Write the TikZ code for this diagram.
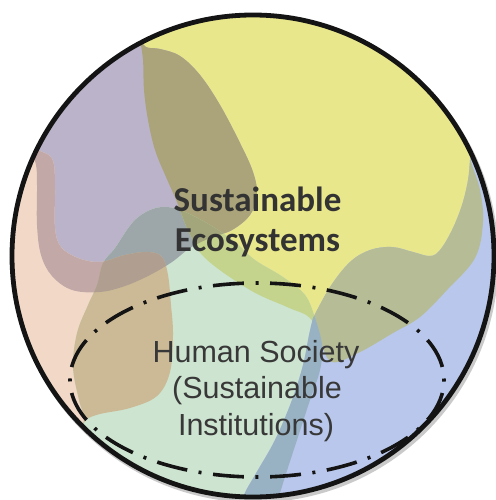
\documentclass[tikz,border=0pt]{standalone}
\usepackage{fontspec}
\newfontfamily\ecofont{Carlito}
\newfontfamily\socfont{Liberation Sans}
\definecolor{cY}{HTML}{E9E78C}
\definecolor{cP}{HTML}{BBB3CA}
\definecolor{cPe}{HTML}{F2D9C7}
\definecolor{cG}{HTML}{CDE4D0}
\definecolor{cB}{HTML}{B8C7EB}
\definecolor{cYP}{HTML}{ABA47A}
\definecolor{cPPe}{HTML}{C2A9A8}
\definecolor{cPG}{HTML}{9DA7A9}
\definecolor{cYG}{HTML}{C4D48C}
\definecolor{cYB}{HTML}{B6BC96}
\definecolor{cPeG}{HTML}{CCBA96}
\definecolor{cGB}{HTML}{98B2C4}
\definecolor{cPPeG}{HTML}{B09F90}
\definecolor{cPYG}{HTML}{A2A67A}
\definecolor{ecogray}{HTML}{333333}
\definecolor{socgray}{HTML}{383838}
\begin{document}
\begin{tikzpicture}[x=1pt,y=-1pt,
  shY/.style={insert path={(138,-20) -- (140,40) -- plot[smooth,tension=0.6] coordinates {(140,40) (143,60) (144,90) (148,120) (155,150) (166,177) (177,202) (188,230) (205,258) (250,290) (287,307) (310,318) (320,340) (332,362) (360,352) (393,333) (420,317) (447,290) (475,258) (483,222) (480,190) (472,165) (468,150)} -- (520,140) -- (520,-20) -- cycle}},
  shP/.style={insert path={(-20,-20) -- (136,-20) -- (140,38) -- plot[smooth,tension=0.6] coordinates {(140,38) (146,47) (160,49) (180,56) (200,75) (220,105) (240,143) (253,172) (257,195) (250,215) (232,230) (210,238) (190,248) (172,262) (150,275) (125,286) (100,292) (72,290) (52,276) (41,255) (37,225) (37,185) (36,165) (30,148)} -- (-20,148) -- cycle}},
  shPe/.style={insert path={(-20,140) -- (30,142) -- plot[smooth,tension=0.6] coordinates {(30,142) (40,151) (49,155) (54,165) (55,190) (55,228) (61,247) (78,258) (100,262) (125,255) (148,252) (162,257) (168,275) (171,305) (173,335) (170,372) (157,396) (130,408) (100,414) (86,420) (80,432)} -- (80,460) -- (-20,460) -- cycle}},
  shG/.style={insert path={(272,520) -- (80,520) -- (80,432) -- plot[smooth,tension=0.6] coordinates {(80,432) (84,418) (79,400) (73,367) (77,333) (88,305) (97,285) (103,263) (115,248) (133,222) (150,210) (167,207) (185,212) (210,225) (235,242) (255,260) (283,277) (305,295) (315,318) (322,345) (320,370) (310,400) (297,440) (284,480) (272,520)} -- cycle}},
  shB/.style={insert path={plot[smooth,tension=0.6] coordinates {(313,318) (330,287) (350,262) (370,250) (392,247) (413,252) (430,256) (440,250) (452,230) (462,205) (468,180) (470,160) (472,140)} -- (520,130) -- (520,520) -- (237,520) -- plot[smooth,tension=0.6] coordinates {(237,520) (244,495) (255,475) (275,440) (292,400) (303,365) (309,335) (313,318)} -- cycle}},
  ecotext/.style={font=\ecofont\bfseries\fontsize{35}{40}\selectfont, text=ecogray, inner sep=0pt, anchor=base},
  soctext/.style={font=\socfont\fontsize{30.5}{36}\selectfont, text=socgray, inner sep=0pt, anchor=base},
  societyline/.style={line width=3.6pt, black!92, dash pattern=on 31pt off 11.5pt on 3pt off 11.67pt, dash phase=44pt},
  rim/.style={line width=4.8pt, black!92}
]
\useasboundingbox (0,0) rectangle (495,500);
% soft shadow of the rim
\draw[line width=5pt, black!35, opacity=0.6] (255,259) circle [radius=241pt];
\begin{scope}
  \clip (253,256) circle [radius=241pt];
  \fill[white] (253,256) circle [radius=241pt];
  % base regions
  \fill[cY, shY];
  \fill[cP, shP];
  \fill[cPe, shPe];
  \fill[cG, shG];
  \fill[cB, shB];
  % pairwise overlaps
  \begin{scope}\clip[shY]; \fill[cYP, shP];\end{scope}
  \begin{scope}\clip[shP]; \fill[cPPe, shPe];\end{scope}
  \begin{scope}\clip[shP]; \fill[cPG, shG];\end{scope}
  \begin{scope}\clip[shY]; \fill[cYG, shG];\end{scope}
  \begin{scope}\clip[shY]; \fill[cYB, shB];\end{scope}
  \begin{scope}\clip[shPe]; \fill[cPeG, shG];\end{scope}
  \begin{scope}\clip[shG]; \fill[cGB, shB];\end{scope}
  % triple overlaps
  \begin{scope}\clip[shP]; \clip[shPe]; \fill[cPPeG, shG];\end{scope}
  \begin{scope}\clip[shP]; \clip[shY]; \fill[cPYG, shG];\end{scope}
\end{scope}
\draw[rim] (253,256) circle [radius=241pt];
% human society boundary
\draw[societyline] (257,380) ellipse [x radius=187pt, y radius=97pt];
% labels
\node[ecotext] (eco1) at (257.5,211) {Sustainable};
\node[ecotext] (eco2) at (257.5,251) {Ecosystems};
\node[soctext] (soc1) at (256,362) {Human Society};
\node[soctext] (soc2) at (257,398) {(Sustainable};
\node[soctext] (soc3) at (256,435) {Institutions)};
\end{tikzpicture}
\end{document}
